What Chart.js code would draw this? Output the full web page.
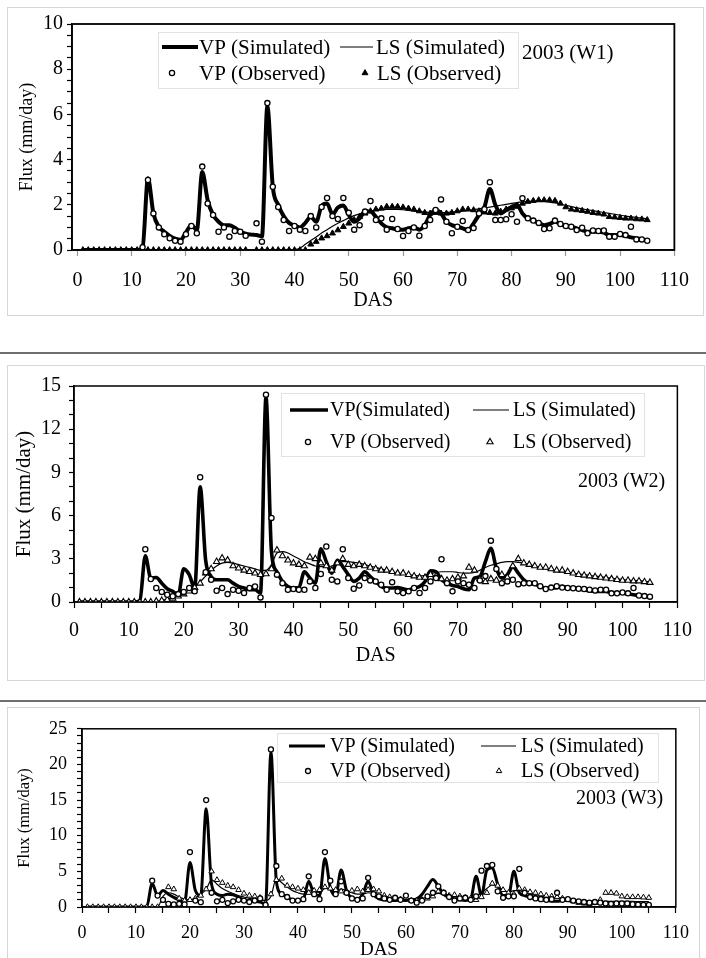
<!DOCTYPE html>
<html>
<head>
<meta charset="utf-8">
<script src="https://cdn.jsdelivr.net/npm/chart.js@4.4.1/dist/chart.umd.min.js"></script>
<style>
  body { margin: 0; background: #fff; width: 706px; height: 958px; position: relative; overflow: hidden; }
  .box { position: absolute; border: 1px solid #d6d6d6; box-sizing: border-box; }
  .sep { position: absolute; left: 0; width: 706px; height: 2px; background: #6f6f6f; }
  canvas { position: absolute; }
</style>
</head>
<body>
<div class="box" style="left:7px;top:7px;width:697px;height:309px"></div>
<div class="sep" style="top:352px"></div>
<div class="box" style="left:7px;top:365px;width:698px;height:316px"></div>
<div class="sep" style="top:700px"></div>
<div class="box" style="left:7px;top:707px;width:693px;height:260px"></div>

<canvas id="w1" width="694" height="306" style="left:8px;top:8px"></canvas>
<canvas id="w2" width="695" height="313" style="left:8px;top:366px"></canvas>
<canvas id="w3" width="690" height="250" style="left:8px;top:708px"></canvas>

<script>
// Gün (DAS) - ekim sonrası günler
const das = [1,2,3,4,5,6,7,8,9,10,11,12,13,14,15,16,17,18,19,20,
  21,22,23,24,25,26,27,28,29,30,31,32,33,34,35,36,37,38,39,40,
  41,42,43,44,45,46,47,48,49,50,51,52,53,54,55,56,57,58,59,60,
  61,62,63,64,65,66,67,68,69,70,71,72,73,74,75,76,77,78,79,80,
  81,82,83,84,85,86,87,88,89,90,91,92,93,94,95,96,97,98,99,100,
  101,102,103,104,105];

const xTicksW1 = [0,10,20,30,40,50,60,70,80,90,100,110];
const xTicksMinor = [0,5,10,15,20,25,30,35,40,45,50,55,60,65,70,75,80,85,90,95,100,105,110];

// 2003 (W1)
const w1VpSim = [0,0,0,0,0,0,0,0,0,0,
  0,0.1,3.17,1.62,1.03,0.81,0.62,0.5,0.45,0.78,
  1.1,0.88,3.45,2.2,1.55,1.25,1.1,1.1,0.98,0.82,
  0.72,0.68,0.66,0.6,6.35,2.8,2.0,1.5,1.2,1.08,
  1.0,1.2,1.47,1.25,1.95,2.06,1.58,1.88,1.97,1.55,
  1.25,1.4,1.7,1.7,1.47,1.18,1.0,0.96,0.9,0.9,
  0.96,1.0,0.9,1.1,1.55,1.77,1.62,1.25,1.1,1.03,
  0.96,0.88,1.18,1.55,1.9,2.7,2.0,1.62,1.77,1.9,
  2.0,1.62,1.4,1.3,1.2,1.1,1.15,1.25,1.15,1.06,
  1.03,0.96,0.88,0.81,0.81,0.81,0.77,0.66,0.66,0.66,
  0.62,0.56,0.52,0.47,0.41];
const w1LsSim = [0,0,0,0,0,0,0,0,0,0,
  0,0,0,0,0,0,0,0,0,0,
  0,0,0,0,0,0,0,0,0,0,
  0,0,0,0,0,0,0,0,0,0.02,
  0.08,0.25,0.42,0.58,0.75,0.9,1.05,1.18,1.3,1.42,
  1.52,1.6,1.67,1.72,1.75,1.78,1.8,1.8,1.8,1.78,
  1.75,1.72,1.7,1.68,1.66,1.65,1.65,1.66,1.68,1.7,
  1.72,1.75,1.78,1.82,1.86,1.9,1.94,1.98,2.02,2.06,
  2.1,2.13,2.15,2.16,2.16,2.15,2.12,2.08,2.03,1.98,
  1.92,1.87,1.82,1.78,1.74,1.7,1.66,1.62,1.58,1.54,
  1.5,1.47,1.44,1.41,1.38];
const w1VpObs = [null,null,null,null,null,null,null,null,null,null,
  null,0.12,3.1,1.62,1.0,0.7,0.52,0.41,0.37,0.7,
  1.06,0.74,3.69,2.06,1.55,0.81,1.0,0.59,0.84,0.81,
  0.63,null,1.18,0.37,6.5,2.8,1.9,1.33,0.84,1.06,
  0.9,0.84,1.5,1.0,1.9,2.3,1.5,1.37,2.3,1.65,
  0.9,1.1,1.7,2.17,1.33,1.4,0.9,1.37,0.93,0.62,
  0.84,1.0,0.63,1.06,1.33,1.77,2.24,1.25,0.74,1.03,
  1.28,0.88,0.97,1.62,1.8,3.0,1.33,1.33,1.36,1.58,
  1.25,2.29,1.4,1.3,1.2,0.93,0.96,1.3,1.15,1.06,
  1.03,0.88,0.99,0.74,0.86,0.84,0.86,0.59,0.59,0.71,
  0.66,1.03,0.47,0.47,0.41];
const w1LsObs = [0,0,0,0,0,0,0,0,0,0,
  0,0,0,0,0,0,0,0,0,0,
  0,0,0,0,0,0,0,0,0,0,
  0,null,0,0,0,0,0,0,0,0,
  0,0,0.25,0.37,0.52,0.62,0.74,0.88,1.03,1.18,
  1.33,1.47,1.62,1.72,1.8,1.84,1.92,1.92,1.92,1.89,
  1.84,1.8,1.72,1.65,1.62,1.65,1.62,1.62,1.65,1.72,
  1.8,1.8,1.77,1.72,1.67,1.65,1.62,1.7,1.8,1.85,
  1.92,2.06,2.14,2.18,2.21,2.21,2.21,2.18,2.06,1.9,
  1.8,1.77,1.74,1.7,1.65,1.62,1.58,1.47,1.45,1.43,
  1.4,1.4,1.37,1.36,1.33];

// 2003 (W2)
const w2VpSim = [0,0,0,0,0,0,0,0,0,0,
  0,0.1,3.2,1.66,1.7,1.3,0.92,0.74,0.5,2.3,
  1.9,0.97,8.0,2.9,1.77,1.54,1.54,1.54,1.31,1.08,
  0.97,0.85,0.85,0.62,14.2,3.5,2.1,1.43,1.08,0.97,
  1.0,2.1,1.66,1.31,3.7,2.8,2.0,2.9,2.46,1.9,
  1.43,1.66,2.1,1.77,1.43,1.08,0.97,0.97,1.0,0.92,
  0.85,0.97,1.08,1.43,2.17,2.1,1.54,1.31,1.15,1.08,
  0.92,0.85,1.66,1.77,2.8,3.73,2.35,1.66,1.9,2.46,
  2.0,1.54,1.31,1.24,1.08,0.97,0.97,1.0,1.08,1.0,
  0.97,0.92,0.85,0.78,0.74,0.74,0.74,0.62,0.62,0.62,
  0.55,0.5,0.46,0.41,0.37];
const w2LsSim = [0,0,0,0,0,0,0,0,0,0,
  0,0,0,0,0.05,0.1,0.2,0.3,0.45,0.6,
  0.8,1.05,1.4,1.8,2.2,2.5,2.7,2.75,2.7,2.6,
  2.5,2.4,2.3,2.2,2.2,2.6,3.4,3.5,3.4,3.2,
  3.0,2.8,2.65,2.5,2.45,2.45,2.5,2.65,2.8,2.8,
  2.75,2.7,2.6,2.5,2.4,2.3,2.2,2.1,2.0,1.95,
  1.9,1.85,1.8,1.85,1.95,2.05,2.1,2.1,2.1,2.05,
  2.0,2.0,2.05,2.2,2.4,2.55,2.65,2.75,2.8,2.8,
  2.75,2.7,2.6,2.5,2.4,2.3,2.2,2.15,2.1,2.05,
  2.0,1.95,1.9,1.85,1.8,1.75,1.7,1.65,1.6,1.55,
  1.52,1.5,1.47,1.44,1.4];
const w2VpObs = [null,null,null,null,null,null,null,null,null,null,
  null,null,3.66,1.6,0.97,0.7,0.5,0.4,0.55,0.7,
  0.97,0.74,8.66,2.07,1.54,0.78,0.97,0.55,0.85,0.78,
  0.62,0.97,1.08,0.32,14.4,5.84,1.9,1.31,0.85,0.9,
  0.85,0.85,1.43,0.97,1.94,3.85,1.54,1.43,3.66,1.66,
  0.92,1.15,1.66,1.5,1.43,1.2,0.85,1.38,0.74,0.62,
  0.74,0.97,0.62,0.97,1.43,1.66,2.97,1.31,0.74,1.43,
  1.31,1.2,0.97,1.5,1.8,4.26,2.3,1.31,1.43,1.54,
  1.24,1.3,1.31,1.3,1.1,0.9,1.0,1.1,1.0,0.97,
  0.95,0.92,0.9,0.85,0.8,0.85,0.85,0.6,0.6,0.66,
  0.6,0.97,0.45,0.41,0.37];
const w2LsObs = [0,0,0,0,0,0,0,0,0,0,
  0,0,0,0,0.05,0.1,0.15,0.25,0.4,0.55,
  0.75,1.0,1.3,2.0,2.3,2.8,3.05,2.9,2.5,2.35,
  2.2,2.1,2.0,1.9,1.95,2.3,3.6,3.2,2.9,2.7,
  2.6,2.5,3.1,3.0,2.7,2.5,2.2,2.7,3.0,2.6,
  2.5,2.6,2.5,2.4,2.3,2.2,2.2,2.1,2.0,2.0,
  1.9,1.8,1.7,1.7,1.9,1.8,1.6,1.5,1.6,1.7,
  1.8,2.4,2.2,1.6,1.4,1.6,1.5,1.9,1.7,2.5,
  3.0,2.7,2.6,2.5,2.4,2.4,2.3,2.2,2.2,2.1,
  2.0,1.9,1.85,1.8,1.75,1.7,1.65,1.6,1.55,1.5,
  1.5,1.45,1.45,1.4,1.35];

// 2003 (W3)
const w3VpSim = [0,0,0,0,0,0,0,0,0,0,
  0,0.1,3.3,1.6,2.3,1.8,1.36,1.0,0.68,6.25,
  2.3,1.6,13.8,3.2,1.8,1.6,1.8,1.7,1.36,1.0,
  0.8,0.8,0.68,0.45,21.7,3.6,1.8,1.36,1.0,0.9,
  1.13,3.6,1.8,1.6,6.8,2.7,1.6,5.2,2.3,1.27,
  1.13,1.8,3.6,1.8,1.13,1.0,0.9,0.9,1.0,0.9,
  1.0,1.13,1.8,2.9,3.85,2.9,1.8,1.36,1.13,1.0,
  0.9,1.13,4.3,1.6,5.2,5.5,3.2,1.6,1.6,5.0,
  2.0,1.6,1.36,1.13,1.0,0.9,0.8,0.8,0.9,0.9,
  0.8,0.68,0.6,0.55,0.55,0.55,0.55,0.45,0.45,0.45,
  0.4,0.36,0.32,0.27,0.23];
const w3LsSim = [0,0,0,0,0,0,0,0,0,0,
  0,0,0,0,1.5,2.0,1.8,1.4,1.1,1.0,
  1.3,1.8,2.5,3.8,3.2,2.6,2.2,1.9,1.6,1.4,
  1.2,1.1,1.0,0.9,1.5,4.0,3.4,2.8,2.3,2.0,
  1.8,2.3,2.2,2.0,2.6,2.6,2.3,2.5,2.3,2.0,
  1.8,1.8,2.0,1.9,1.7,1.5,1.4,1.3,1.2,1.1,
  1.1,1.1,1.2,1.4,1.7,1.9,1.8,1.6,1.4,1.3,
  1.2,1.2,1.6,2.0,2.6,3.1,2.9,2.4,2.1,2.3,
  2.3,2.0,1.8,1.6,1.5,1.4,1.3,1.3,1.2,1.1,
  1.0,0.95,0.9,0.85,0.8,0.8,0.8,0.8,0.8,0.8,
  0.8,0.8,0.75,0.75,0.75];
const w3VpObs = [null,null,null,null,null,null,null,null,null,null,
  null,null,3.7,1.6,1.0,0.45,0.36,0.45,0.36,7.7,
  0.9,0.68,15.0,2.0,0.8,1.0,0.55,0.8,1.0,0.9,
  0.7,0.9,1.2,0.3,22.1,5.75,1.8,1.4,0.9,0.9,
  1.1,4.3,1.8,1.1,7.7,3.7,1.8,3.6,2.0,1.2,
  1.0,1.2,4.1,1.8,1.5,1.2,1.0,1.3,1.0,1.6,
  0.9,0.6,0.9,1.5,2.0,2.9,2.0,1.4,0.9,1.2,
  1.3,1.0,1.5,5.1,5.75,5.9,2.2,1.3,1.5,1.5,
  5.35,2.0,1.4,1.2,1.1,1.0,1.1,2.0,1.0,1.1,
  0.9,0.8,0.7,0.6,0.7,0.6,0.5,0.45,0.5,0.5,
  0.5,0.4,0.35,0.3,0.3];
const w3LsObs = [0,0,0,0,0,0,0,0,0,0,
  0,0,0,0,0.9,2.8,2.5,1.2,0.9,1.0,
  1.2,1.6,2.5,5.0,3.8,3.4,3.0,2.8,2.4,1.9,
  1.6,1.5,1.3,0.5,1.8,3.8,4.0,3.0,2.8,2.6,
  2.4,2.0,2.3,2.4,2.8,2.6,2.4,2.2,2.0,2.3,
  2.5,2.2,2.4,2.5,2.2,1.6,1.4,1.2,1.1,1.3,
  0.9,0.9,1.0,1.2,1.5,2.2,2.0,1.6,1.7,1.5,
  1.3,1.2,1.0,1.4,2.0,3.3,3.0,2.4,2.0,1.8,
  2.6,2.4,2.1,2.0,1.8,1.6,1.5,1.4,1.2,1.0,
  0.8,0.6,0.5,0.45,0.6,1.0,2.0,2.0,1.9,1.5,
  1.4,1.4,1.4,1.35,1.3];

const serif = '"Liberation Serif", "Times New Roman", serif';

// Çerçeve, lejant ve başlık yazısı
const panelDecor = {
  id: 'panelDecor',
  afterDatasetsDraw(chart, args, o) {
    const ctx = chart.ctx;
    const a = chart.chartArea;
    ctx.save();
    ctx.strokeStyle = '#000';
    ctx.lineWidth = o.frame;
    ctx.strokeRect(a.left, a.top, a.right - a.left, a.bottom - a.top);

    const [bx1, by1, bx2, by2] = o.box;
    ctx.fillStyle = '#fff';
    ctx.fillRect(bx1, by1, bx2 - bx1, by2 - by1);
    ctx.strokeStyle = '#e2e2e2';
    ctx.lineWidth = 1;
    ctx.strokeRect(bx1 + 0.5, by1 + 0.5, bx2 - bx1, by2 - by1);

    ctx.font = o.fontSize + 'px ' + serif;
    ctx.textBaseline = 'middle';
    ctx.textAlign = 'left';
    o.items.forEach((it) => {
      const ds = chart.data.datasets[it.ds];
      if (it.x2 !== undefined) {
        ctx.strokeStyle = '#000';
        ctx.lineWidth = ds.borderWidth;
        ctx.beginPath();
        ctx.moveTo(it.x1, it.y);
        ctx.lineTo(it.x2, it.y);
        ctx.stroke();
      } else {
        ctx.fillStyle = ds.pointBackgroundColor;
        ctx.strokeStyle = '#000';
        ctx.lineWidth = ds.pointBorderWidth;
        Chart.helpers.drawPoint(ctx, {
          pointStyle: ds.pointStyle, radius: ds.pointRadius,
          borderWidth: ds.pointBorderWidth, rotation: 0
        }, it.x1, it.y);
      }
      ctx.fillStyle = '#000';
      ctx.fillText(ds.label, it.tx, it.y + 1);
    });
    ctx.fillText(o.tag, o.tagX, o.tagY);
    ctx.restore();
  }
};

function makePanel(id, p) {
  const pts = (arr) => arr.map((v, i) => ({ x: das[i], y: v }));
  const datasets = [
    { label: p.labels[0], data: pts(p.vpSim), borderColor: '#000', borderWidth: p.thick,
      pointRadius: 0, cubicInterpolationMode: 'monotone', order: 3 },
    { label: p.labels[1], data: pts(p.lsSim), borderColor: '#000', borderWidth: 1.2,
      pointRadius: 0, cubicInterpolationMode: 'monotone', order: 2 },
    { label: p.labels[2], data: pts(p.vpObs), showLine: false, pointStyle: 'circle',
      pointRadius: p.circleR, pointBorderWidth: 1.3, pointBackgroundColor: '#fff',
      pointBorderColor: '#000', order: 0 },
    { label: p.labels[3], data: pts(p.lsObs), showLine: false, pointStyle: 'triangle',
      pointRadius: p.triR, pointBorderWidth: p.triW, pointBackgroundColor: p.triFill,
      pointBorderColor: '#000', order: 1 }
  ];

  new Chart(document.getElementById(id), {
    type: 'line',
    data: { datasets },
    options: {
      responsive: false,
      animation: false,
      devicePixelRatio: 1,
      layout: { padding: p.pad },
      plugins: { legend: { display: false }, tooltip: { enabled: false }, panelDecor: p.decor },
      scales: {
        x: {
          type: 'linear', min: p.xMin, max: 110,
          afterBuildTicks: (s) => { s.ticks = p.xTicks.map((v) => ({ value: v })); },
          afterFit: (s) => { s.height = p.xHeight; },
          ticks: { autoSkip: false, maxRotation: 0, padding: p.xPad, color: '#000',
            font: { family: serif, size: p.tickSize },
            callback: (v) => (v % 10 === 0 ? v : '') },
          grid: { drawOnChartArea: false, tickLength: 6, tickColor: p.xTickColor, tickWidth: 1.2 },
          border: { color: '#000', width: 1.5 },
          title: { display: true, text: 'DAS', color: '#000',
            font: { family: serif, size: p.dasSize }, padding: { top: 0, bottom: p.dasPad } }
        },
        y: {
          min: 0, max: p.yMax,
          afterFit: (s) => { s.width = p.yWidth; },
          ticks: { stepSize: p.minor, autoSkip: false, padding: p.yPad, color: '#000',
            font: { family: serif, size: p.tickSize },
            callback: (v) => (Math.round(v * 100) % Math.round(p.major * 100) === 0 ? v : '') },
          grid: { drawOnChartArea: false, tickLength: 5, tickColor: '#000', tickWidth: 1.2 },
          border: { color: '#000', width: 1.5 },
          title: { display: true, text: 'Flux (mm/day)', color: '#000',
            font: { family: serif, size: p.titleSize }, padding: { top: p.titlePad, bottom: 0 } }
        }
      }
    },
    plugins: [panelDecor]
  });
}

makePanel('w1', {
  vpSim: w1VpSim, lsSim: w1LsSim, vpObs: w1VpObs, lsObs: w1LsObs,
  labels: ['VP (Simulated)', 'LS (Simulated)', 'VP (Observed)', 'LS (Observed)'],
  thick: 4, circleR: 2.6, triR: 3.4, triW: 1, triFill: '#000',
  xMin: -1, xTicks: xTicksW1, xTickColor: '#9a9a9a', yMax: 10, major: 2, minor: 0.5,
  pad: { left: 0, top: 16, right: 12, bottom: 0 }, yWidth: 64, xHeight: 64,
  xPad: 13, yPad: 4, tickSize: 20, dasSize: 20, dasPad: 1, titleSize: 18, titlePad: 8,
  decor: {
    frame: 1.8, box: [150, 24, 510, 80], fontSize: 21,
    items: [
      { ds: 0, x1: 154, x2: 190, y: 39, tx: 191 },
      { ds: 1, x1: 332, x2: 365, y: 39, tx: 368 },
      { ds: 2, x1: 164, y: 65, tx: 191 },
      { ds: 3, x1: 357, y: 65, tx: 369 }
    ],
    tag: '2003 (W1)', tagX: 514, tagY: 45
  }
});

makePanel('w2', {
  vpSim: w2VpSim, lsSim: w2LsSim, vpObs: w2VpObs, lsObs: w2LsObs,
  labels: ['VP(Simulated)', 'LS (Simulated)', 'VP (Observed)', 'LS (Observed)'],
  thick: 3.6, circleR: 2.6, triR: 3.6, triW: 1.1, triFill: '#fff',
  xMin: 0, xTicks: xTicksMinor, xTickColor: '#000', yMax: 15, major: 3, minor: 1,
  pad: { left: 0, top: 19, right: 19, bottom: 0 }, yWidth: 66, xHeight: 77,
  xPad: 11, yPad: 8, tickSize: 20, dasSize: 20, dasPad: 11, titleSize: 21, titlePad: 4,
  decor: {
    frame: 1.5, box: [273, 27, 636, 90], fontSize: 20,
    items: [
      { ds: 0, x1: 282, x2: 320, y: 44, tx: 322 },
      { ds: 1, x1: 465, x2: 501, y: 44, tx: 505 },
      { ds: 2, x1: 300, y: 76, tx: 322 },
      { ds: 3, x1: 482, y: 76, tx: 505 }
    ],
    tag: '2003 (W2)', tagX: 570, tagY: 116
  }
});

makePanel('w3', {
  vpSim: w3VpSim, lsSim: w3LsSim, vpObs: w3VpObs, lsObs: w3LsObs,
  labels: ['VP (Simulated)', 'LS (Simulated)', 'VP (Observed)', 'LS (Observed)'],
  thick: 3, circleR: 2.5, triR: 3.2, triW: 1, triFill: '#fff',
  xMin: 0, xTicks: xTicksMinor, xTickColor: '#000', yMax: 25, major: 5, minor: 1,
  pad: { left: 0, top: 14, right: 18, bottom: 0 }, yWidth: 74, xHeight: 51,
  xPad: 9, yPad: 10, tickSize: 18, dasSize: 19, dasPad: -3, titleSize: 16.5, titlePad: 7,
  decor: {
    frame: 1.5, box: [269, 25, 650, 74], fontSize: 20,
    items: [
      { ds: 0, x1: 281, x2: 317, y: 38, tx: 322 },
      { ds: 1, x1: 473, x2: 508, y: 38, tx: 513 },
      { ds: 2, x1: 300, y: 63, tx: 322 },
      { ds: 3, x1: 491, y: 63, tx: 513 }
    ],
    tag: '2003 (W3)', tagX: 568, tagY: 91
  }
});
</script>
</body>
</html>
